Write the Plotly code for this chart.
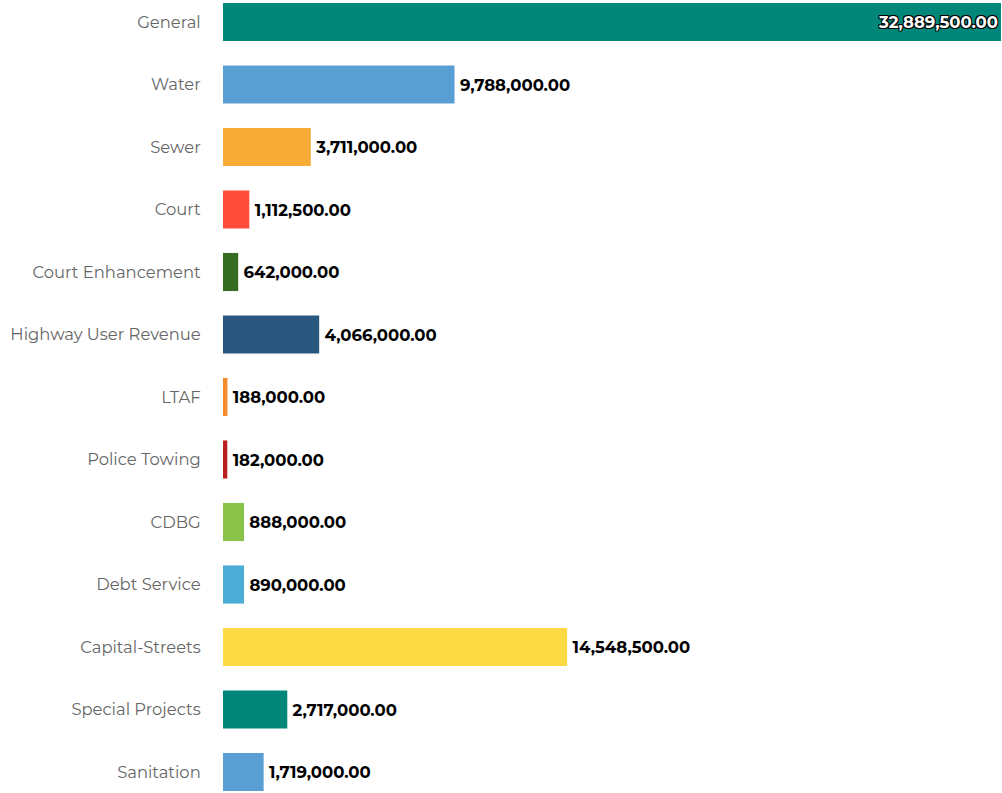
import plotly.graph_objects as go

funds = ["General", "Water", "Sewer", "Court", "Court Enhancement",
         "Highway User Revenue", "LTAF", "Police Towing", "CDBG",
         "Debt Service", "Capital-Streets", "Special Projects", "Sanitation"]
amounts = [32889500, 9788000, 3711000, 1112500, 642000, 4066000, 188000,
           182000, 888000, 890000, 14548500, 2717000, 1719000]
colors = ["#00877A", "#5A9FD4", "#F7AC38", "#FF4D3A", "#366B22", "#2A577E",
          "#F58A2A", "#B8201E", "#8BC34A", "#4BACD6", "#FDDA44", "#00877A",
          "#5A9FD4"]

top = max(amounts)
# the largest bar carries its label inside; the rest sit just past the bar end
positions = ["inside" if v == top else "outside" for v in amounts]
labels = [f"{v:,.2f}" if v == top else "\u2009" + f"{v:,.2f}" for v in amounts]

fig = go.Figure(go.Bar(
    y=funds,
    x=amounts,
    orientation="h",
    marker=dict(color=colors, line=dict(width=0)),
    text=labels,
    textposition=positions,
    insidetextanchor="end",
    constraintext="none",
    cliponaxis=False,
    textangle=0,
    insidetextfont=dict(family="Montserrat, Inter, sans-serif", size=16.5,
                        color="white", weight=700,
                        shadow="-1px -1px 0 #000, 1px -1px 0 #000, -1px 1px 0 #000, 1px 1px 0 #000"),
    outsidetextfont=dict(family="Montserrat, Inter, sans-serif", size=16.5,
                         color="black", weight=700),
    hoverinfo="skip",
))

fig.update_layout(
    width=1002, height=793,
    margin=dict(l=223, r=0, t=0, b=0),
    paper_bgcolor="white", plot_bgcolor="white",
    bargap=0.39,
    showlegend=False,
    xaxis=dict(range=[0, top * 1.0013], visible=False, fixedrange=True),
    yaxis=dict(
        type="category",
        range=[12.336, -0.352],
        showgrid=False, zeroline=False, showline=False,
        ticks="outside", ticklen=18, tickcolor="rgba(0,0,0,0)",
        tickfont=dict(family="Montserrat, Inter, sans-serif", size=16.4, color="#666666"),
        automargin=False, fixedrange=True,
    ),
)

fig.write_html("out.html", config={"displayModeBar": False})
